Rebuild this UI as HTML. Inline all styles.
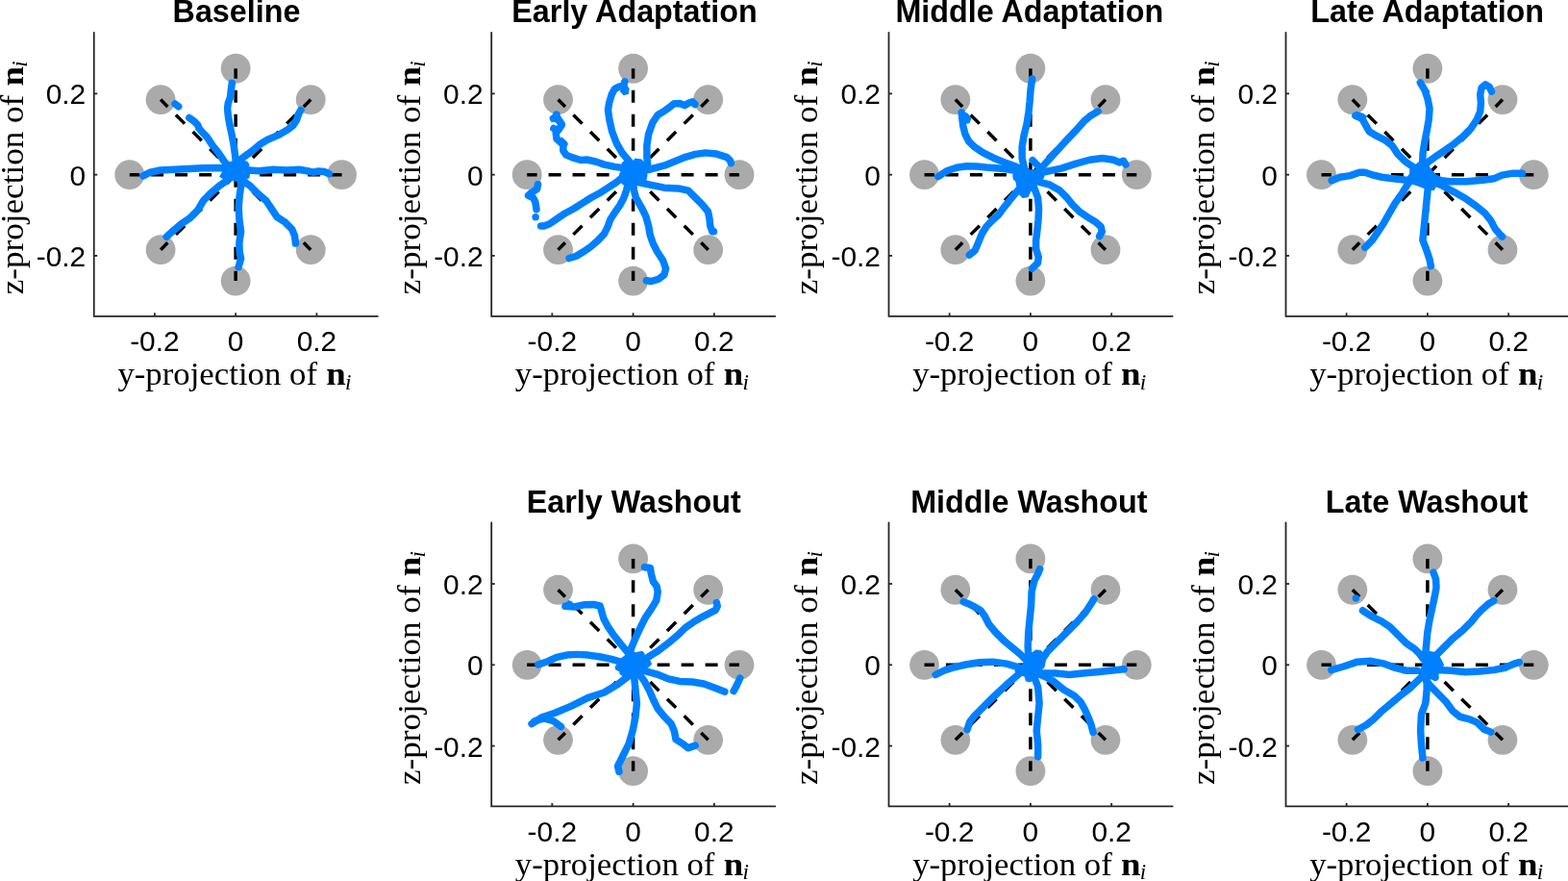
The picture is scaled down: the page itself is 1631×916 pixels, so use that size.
<!DOCTYPE html><html><head><meta charset="utf-8"><style>html,body{margin:0;padding:0;background:#fff;overflow:hidden}svg{display:block}.t{font-family:"Liberation Sans",Arial,Helvetica,sans-serif}.s{font-family:"Liberation Serif","Times New Roman",serif}</style></head><body>
<svg width="1631" height="916" viewBox="0 0 1631 916">
<rect width="1631" height="916" fill="#fff"/>
<g><circle cx="355.55" cy="181.65" r="15.4" fill="#aaaaaa"/><circle cx="323.21" cy="103.59" r="15.4" fill="#aaaaaa"/><circle cx="245.15" cy="71.25" r="15.4" fill="#aaaaaa"/><circle cx="167.09" cy="103.59" r="15.4" fill="#aaaaaa"/><circle cx="134.75" cy="181.65" r="15.4" fill="#aaaaaa"/><circle cx="167.09" cy="259.71" r="15.4" fill="#aaaaaa"/><circle cx="245.15" cy="292.05" r="15.4" fill="#aaaaaa"/><circle cx="323.21" cy="259.71" r="15.4" fill="#aaaaaa"/><line x1="245.15" y1="181.65" x2="355.55" y2="181.65" stroke="#000" stroke-width="3.5" stroke-dasharray="13 12"/><line x1="245.15" y1="181.65" x2="323.21" y2="103.59" stroke="#000" stroke-width="3.5" stroke-dasharray="13 12"/><line x1="245.15" y1="181.65" x2="245.15" y2="71.25" stroke="#000" stroke-width="3.5" stroke-dasharray="13 12"/><line x1="245.15" y1="181.65" x2="167.09" y2="103.59" stroke="#000" stroke-width="3.5" stroke-dasharray="13 12"/><line x1="245.15" y1="181.65" x2="134.75" y2="181.65" stroke="#000" stroke-width="3.5" stroke-dasharray="13 12"/><line x1="245.15" y1="181.65" x2="167.09" y2="259.71" stroke="#000" stroke-width="3.5" stroke-dasharray="13 12"/><line x1="245.15" y1="181.65" x2="245.15" y2="292.05" stroke="#000" stroke-width="3.5" stroke-dasharray="13 12"/><line x1="245.15" y1="181.65" x2="323.21" y2="259.71" stroke="#000" stroke-width="3.5" stroke-dasharray="13 12"/><path d="M246.17 174.8 L245.43 168.9 L244.4 160.06 L242.93 149.74 L241.01 139.43 L238.8 129.11 L237.33 120.27 L236.59 112.9 L237.33 107 L239.54 101.11 L240.27 93.74 L241.3 86.37" fill="none" stroke="#0080ff" stroke-width="7.5" stroke-linecap="round" stroke-linejoin="round"/><path d="M245.9 168.9 L251.79 164.48 L262.11 157.11 L270.95 149.74 L278.32 145.32 L288.64 140.9 L298.95 135.01 L304.85 130.59 L308.53 124.69 L310.74 118.06 L312.95 114.37" fill="none" stroke="#0080ff" stroke-width="7.5" stroke-linecap="round" stroke-linejoin="round"/><path d="M248.84 177.45 L259.16 177.01 L269.48 177.75 L284.21 176.27 L298.95 177.01 L310.74 176.27 L319.59 177.75 L325.48 179.22 L331.38 178.04 L337.27 178.48 L342.43 180.69" fill="none" stroke="#0080ff" stroke-width="7.5" stroke-linecap="round" stroke-linejoin="round"/><path d="M251.24 187.24 L259.76 192.92 L268.28 201.44 L276.79 208.53 L282.47 217.05 L288.14 225.56 L296.66 231.24 L303.76 238.34 L306.59 245.43 L307.45 253.1" fill="none" stroke="#0080ff" stroke-width="7.5" stroke-linecap="round" stroke-linejoin="round"/><path d="M251.05 184.84 L250.61 193.69 L249.14 204 L248.25 215.79 L248.84 227.58 L250.61 240.85 L248.84 252.64 L249.14 261.48 L250.61 268.85 L248.11 277.69" fill="none" stroke="#0080ff" stroke-width="7.5" stroke-linecap="round" stroke-linejoin="round"/><path d="M237.05 187.24 L228.54 192.92 L220.02 200.02 L211.51 208.53 L205.83 218.47 L197.31 226.98 L188.8 232.66 L180.28 239.76 L173.19 246.28" fill="none" stroke="#0080ff" stroke-width="7.5" stroke-linecap="round" stroke-linejoin="round"/><path d="M238.8 175.09 L225.53 174.5 L210.8 174.8 L196.06 175.54 L181.32 176.27 L166.58 177.01 L156.27 179.22 L148.9 182.91" fill="none" stroke="#0080ff" stroke-width="7.5" stroke-linecap="round" stroke-linejoin="round"/><path d="M240.27 176.27 L232.9 167.43 L227.01 158.59 L221.11 151.22 L218.17 146.8 L215.22 142.38 L210.8 137.95 L207.11 133.53 L205.64 129.85 L201.95 126.16 L196.8 122.48" fill="none" stroke="#0080ff" stroke-width="7.5" stroke-linecap="round" stroke-linejoin="round"/><path d="M182.06 108.04 L185.74 110.69" fill="none" stroke="#0080ff" stroke-width="7.5" stroke-linecap="round" stroke-linejoin="round"/><path d="M228.1 183.75 L236.62 168.69 L243.17 167.05 L251.68 166.72 L256.92 167.38 L259.54 170.65 L258.89 175.24 L260.2 178.51 L259.54 185.06 L254.3 187.68 L246.44 188.99 L239.89 187.68 L232.03 186.37Z" fill="#0080ff"/><path d="M97.75 33.85 L97.75 328.8 L392.85 328.8" fill="none" stroke="#262626" stroke-width="1.8" stroke-linecap="round"/><line x1="160.89" y1="328.8" x2="160.89" y2="325.3" stroke="#262626" stroke-width="1.8"/><line x1="97.75" y1="265.91" x2="101.25" y2="265.91" stroke="#262626" stroke-width="1.8"/><text class="t" x="160.89" y="365.2" font-size="29.9" text-anchor="middle" fill="#000">-0.2</text><text class="t" x="89.2" y="276.91" font-size="29.9" text-anchor="end" fill="#000">-0.2</text><line x1="245.15" y1="328.8" x2="245.15" y2="325.3" stroke="#262626" stroke-width="1.8"/><line x1="97.75" y1="181.65" x2="101.25" y2="181.65" stroke="#262626" stroke-width="1.8"/><text class="t" x="245.15" y="365.2" font-size="29.9" text-anchor="middle" fill="#000">0</text><text class="t" x="89.2" y="192.65" font-size="29.9" text-anchor="end" fill="#000">0</text><line x1="329.41" y1="328.8" x2="329.41" y2="325.3" stroke="#262626" stroke-width="1.8"/><line x1="97.75" y1="97.39" x2="101.25" y2="97.39" stroke="#262626" stroke-width="1.8"/><text class="t" x="329.41" y="365.2" font-size="29.9" text-anchor="middle" fill="#000">0.2</text><text class="t" x="89.2" y="108.39" font-size="29.9" text-anchor="end" fill="#000">0.2</text><text class="t" x="246" y="23.3" font-size="32.3" font-weight="bold" text-anchor="middle" fill="#000">Baseline</text><text class="s" x="122.4" y="399.9" font-size="33.0" textLength="207.6" lengthAdjust="spacingAndGlyphs" fill="#000">y-projection of</text><text class="s" x="339.2" y="399.9" font-size="33.0" font-weight="bold" textLength="20.5" lengthAdjust="spacingAndGlyphs" fill="#000">n</text><text class="s" x="359" y="404.6" font-size="23.1" font-style="italic" fill="#000">i</text><g transform="translate(23.6 181.65) rotate(-90)"><text class="s" x="-124.7" y="0" font-size="33.0" textLength="207.6" lengthAdjust="spacingAndGlyphs" fill="#000">z-projection of</text><text class="s" x="92.1" y="0" font-size="33.0" font-weight="bold" textLength="20.5" lengthAdjust="spacingAndGlyphs" fill="#000">n</text><text class="s" x="111.9" y="4.7" font-size="23.1" font-style="italic" fill="#000">i</text></g></g>
<g><circle cx="769" cy="181.65" r="15.4" fill="#aaaaaa"/><circle cx="736.66" cy="103.59" r="15.4" fill="#aaaaaa"/><circle cx="658.6" cy="71.25" r="15.4" fill="#aaaaaa"/><circle cx="580.54" cy="103.59" r="15.4" fill="#aaaaaa"/><circle cx="548.2" cy="181.65" r="15.4" fill="#aaaaaa"/><circle cx="580.54" cy="259.71" r="15.4" fill="#aaaaaa"/><circle cx="658.6" cy="292.05" r="15.4" fill="#aaaaaa"/><circle cx="736.66" cy="259.71" r="15.4" fill="#aaaaaa"/><line x1="658.6" y1="181.65" x2="769" y2="181.65" stroke="#000" stroke-width="3.5" stroke-dasharray="13 12"/><line x1="658.6" y1="181.65" x2="736.66" y2="103.59" stroke="#000" stroke-width="3.5" stroke-dasharray="13 12"/><line x1="658.6" y1="181.65" x2="658.6" y2="71.25" stroke="#000" stroke-width="3.5" stroke-dasharray="13 12"/><line x1="658.6" y1="181.65" x2="580.54" y2="103.59" stroke="#000" stroke-width="3.5" stroke-dasharray="13 12"/><line x1="658.6" y1="181.65" x2="548.2" y2="181.65" stroke="#000" stroke-width="3.5" stroke-dasharray="13 12"/><line x1="658.6" y1="181.65" x2="580.54" y2="259.71" stroke="#000" stroke-width="3.5" stroke-dasharray="13 12"/><line x1="658.6" y1="181.65" x2="658.6" y2="292.05" stroke="#000" stroke-width="3.5" stroke-dasharray="13 12"/><line x1="658.6" y1="181.65" x2="736.66" y2="259.71" stroke="#000" stroke-width="3.5" stroke-dasharray="13 12"/><path d="M650.04 174.89 L639.34 173.36 L628.65 171.07 L619.48 168.01 L610.31 166.03 L604.19 166.48 L596.55 164.19 L588.91 161.14 L585.85 156.55 L585.85 150.44 L582.79 147.69 L578.97 144.32 L578.21 138.21 L581.27 134.39 L584.32 129.8 L581.57 125.68 L578.21 123.23 L578.97 119.1" fill="none" stroke="#0080ff" stroke-width="7.5" stroke-linecap="round" stroke-linejoin="round"/><path d="M578.37 120.27 L584.27 129.11" fill="none" stroke="#0080ff" stroke-width="7.5" stroke-linecap="round" stroke-linejoin="round"/><path d="M575.87 133.53 L579.85 135.74" fill="none" stroke="#0080ff" stroke-width="7.5" stroke-linecap="round" stroke-linejoin="round"/><path d="M583.83 146.8 L586.77 149.74" fill="none" stroke="#0080ff" stroke-width="7.5" stroke-linecap="round" stroke-linejoin="round"/><path d="M575.42 123.22 L578.37 121.74" fill="none" stroke="#0080ff" stroke-width="7.5" stroke-linecap="round" stroke-linejoin="round"/><path d="M646.9 184.84 L641.01 189.56 L632.17 195.45 L623.32 201.05 L614.48 205.77 L605.64 211.37 L596.79 216.97 L587.95 221.69 L579.11 227.58 L571.74 232.74 L565.84 234.95 L562.6 234.95" fill="none" stroke="#0080ff" stroke-width="7.5" stroke-linecap="round" stroke-linejoin="round"/><path d="M557.12 225.63 L557.12 225.63" fill="none" stroke="#0080ff" stroke-width="7.5" stroke-linecap="round" stroke-linejoin="round"/><path d="M558.03 217.69 L556.81 210.04 L554.52 205.46 L549.48 203.32 L552.99 200.11 L558.65 196.59 L559.56 191.7" fill="none" stroke="#0080ff" stroke-width="7.5" stroke-linecap="round" stroke-linejoin="round"/><path d="M658.69 173.33 L654.27 167.43 L646.9 158.59 L641.01 148.27 L636.59 136.48 L633.93 124.69 L632.46 114.37 L633.64 107 L636.29 98.16 L639.53 92.27 L643.96 90.06 L648.38 89.61 L649.85 84.9" fill="none" stroke="#0080ff" stroke-width="7.5" stroke-linecap="round" stroke-linejoin="round"/><path d="M645.43 89.61 L651.33 87.11 L654.57 92.27 L653.98 97.87 L648.67 99.34 L645.14 95.21Z" fill="#0080ff"/><path d="M673.9 176.27 L672.86 163.01 L672.86 151.22 L674.63 139.43 L678.76 127.64 L684.21 119.53 L691.58 115.11 L697.48 110.69 L701.16 107.74 L707.06 107.45 L712.22 109.66 L715.9 107.3 L720.32 105.83 L722.97 108.48" fill="none" stroke="#0080ff" stroke-width="7.5" stroke-linecap="round" stroke-linejoin="round"/><path d="M668.74 177.75 L676.11 175.98 L690.84 172.15 L702.64 167.43 L712.95 163.3 L723.27 160.36 L733.59 158.88 L745.38 160.06 L755.69 163.3 L759.38 166.69 L760.41 169.64" fill="none" stroke="#0080ff" stroke-width="7.5" stroke-linecap="round" stroke-linejoin="round"/><path d="M662.84 189.26 L676.11 192.21 L690.84 195.16 L705.58 195.9 L715.9 198.11 L723.27 205.48 L730.64 212.84 L736.53 220.21 L738.01 227.58 L738.74 234.95 L740.95 240.85 L742.43 240.85" fill="none" stroke="#0080ff" stroke-width="7.5" stroke-linecap="round" stroke-linejoin="round"/><path d="M658.42 193.69 L661.37 205.48 L667.26 215.79 L671.69 224.64 L674.63 234.95 L676.11 243.79 L679.05 252.64 L683.48 261.48 L689.37 270.32 L692.61 279.17 L690.84 285.8 L684.95 290.22 L677.58 292.43 L672.42 291.69" fill="none" stroke="#0080ff" stroke-width="7.5" stroke-linecap="round" stroke-linejoin="round"/><path d="M653.54 189.26 L651.62 198.11 L648.67 206.21 L644.69 213.58 L639.53 220.95 L634.82 228.32 L632.17 235.69 L628.48 243.06 L621.55 250.43 L614.19 256.76 L606.82 261.78 L599.45 266.2 L592.08 268.55" fill="none" stroke="#0080ff" stroke-width="7.5" stroke-linecap="round" stroke-linejoin="round"/><path d="M646.38 169.65 L649.65 166.38 L657.51 167.69 L660.79 164.41 L667.34 165.39 L670.28 169 L672.58 174.89 L673.56 182.75 L671.92 189.3 L662.75 191.92 L662.75 195.85 L659.48 198.47 L654.89 195.85 L647.69 191.92 L643.1 186.68 L644.41 180.13 L647.69 174.24Z" fill="#0080ff"/><path d="M511.2 33.85 L511.2 328.8 L806.3 328.8" fill="none" stroke="#262626" stroke-width="1.8" stroke-linecap="round"/><line x1="574.34" y1="328.8" x2="574.34" y2="325.3" stroke="#262626" stroke-width="1.8"/><line x1="511.2" y1="265.91" x2="514.7" y2="265.91" stroke="#262626" stroke-width="1.8"/><text class="t" x="574.34" y="365.2" font-size="29.9" text-anchor="middle" fill="#000">-0.2</text><text class="t" x="502.65" y="276.91" font-size="29.9" text-anchor="end" fill="#000">-0.2</text><line x1="658.6" y1="328.8" x2="658.6" y2="325.3" stroke="#262626" stroke-width="1.8"/><line x1="511.2" y1="181.65" x2="514.7" y2="181.65" stroke="#262626" stroke-width="1.8"/><text class="t" x="658.6" y="365.2" font-size="29.9" text-anchor="middle" fill="#000">0</text><text class="t" x="502.65" y="192.65" font-size="29.9" text-anchor="end" fill="#000">0</text><line x1="742.86" y1="328.8" x2="742.86" y2="325.3" stroke="#262626" stroke-width="1.8"/><line x1="511.2" y1="97.39" x2="514.7" y2="97.39" stroke="#262626" stroke-width="1.8"/><text class="t" x="742.86" y="365.2" font-size="29.9" text-anchor="middle" fill="#000">0.2</text><text class="t" x="502.65" y="108.39" font-size="29.9" text-anchor="end" fill="#000">0.2</text><text class="t" x="660.05" y="23.3" font-size="32.3" font-weight="bold" text-anchor="middle" fill="#000">Early Adaptation</text><text class="s" x="535.85" y="399.9" font-size="33.0" textLength="207.6" lengthAdjust="spacingAndGlyphs" fill="#000">y-projection of</text><text class="s" x="752.65" y="399.9" font-size="33.0" font-weight="bold" textLength="20.5" lengthAdjust="spacingAndGlyphs" fill="#000">n</text><text class="s" x="772.45" y="404.6" font-size="23.1" font-style="italic" fill="#000">i</text><g transform="translate(437.05 181.65) rotate(-90)"><text class="s" x="-124.7" y="0" font-size="33.0" textLength="207.6" lengthAdjust="spacingAndGlyphs" fill="#000">z-projection of</text><text class="s" x="92.1" y="0" font-size="33.0" font-weight="bold" textLength="20.5" lengthAdjust="spacingAndGlyphs" fill="#000">n</text><text class="s" x="111.9" y="4.7" font-size="23.1" font-style="italic" fill="#000">i</text></g></g>
<g><circle cx="1182.3" cy="181.65" r="15.4" fill="#aaaaaa"/><circle cx="1149.96" cy="103.59" r="15.4" fill="#aaaaaa"/><circle cx="1071.9" cy="71.25" r="15.4" fill="#aaaaaa"/><circle cx="993.84" cy="103.59" r="15.4" fill="#aaaaaa"/><circle cx="961.5" cy="181.65" r="15.4" fill="#aaaaaa"/><circle cx="993.84" cy="259.71" r="15.4" fill="#aaaaaa"/><circle cx="1071.9" cy="292.05" r="15.4" fill="#aaaaaa"/><circle cx="1149.96" cy="259.71" r="15.4" fill="#aaaaaa"/><line x1="1071.9" y1="181.65" x2="1182.3" y2="181.65" stroke="#000" stroke-width="3.5" stroke-dasharray="13 12"/><line x1="1071.9" y1="181.65" x2="1149.96" y2="103.59" stroke="#000" stroke-width="3.5" stroke-dasharray="13 12"/><line x1="1071.9" y1="181.65" x2="1071.9" y2="71.25" stroke="#000" stroke-width="3.5" stroke-dasharray="13 12"/><line x1="1071.9" y1="181.65" x2="993.84" y2="103.59" stroke="#000" stroke-width="3.5" stroke-dasharray="13 12"/><line x1="1071.9" y1="181.65" x2="961.5" y2="181.65" stroke="#000" stroke-width="3.5" stroke-dasharray="13 12"/><line x1="1071.9" y1="181.65" x2="993.84" y2="259.71" stroke="#000" stroke-width="3.5" stroke-dasharray="13 12"/><line x1="1071.9" y1="181.65" x2="1071.9" y2="292.05" stroke="#000" stroke-width="3.5" stroke-dasharray="13 12"/><line x1="1071.9" y1="181.65" x2="1149.96" y2="259.71" stroke="#000" stroke-width="3.5" stroke-dasharray="13 12"/><path d="M1066.54 179.22 L1063.15 164.48 L1063.15 152.69 L1065.06 140.9 L1068.01 129.11 L1069.93 117.32 L1071.1 105.53 L1071.99 93.74 L1073.61 81.95" fill="none" stroke="#0080ff" stroke-width="7.5" stroke-linecap="round" stroke-linejoin="round"/><path d="M1080.26 177.75 L1096.48 160.06 L1108.27 147.09 L1118.58 136.19 L1127.43 126.16 L1134.06 120.56 L1142.16 115.85" fill="none" stroke="#0080ff" stroke-width="7.5" stroke-linecap="round" stroke-linejoin="round"/><path d="M1083.21 179.52 L1103.84 175.09 L1118.58 170.38 L1133.32 166.25 L1146.59 164.48 L1158.38 166.25 L1164.27 168.9 L1168.69 167.43 L1170.9 171.11" fill="none" stroke="#0080ff" stroke-width="7.5" stroke-linecap="round" stroke-linejoin="round"/><path d="M1078.79 188.53 L1092.05 192.21 L1102.37 198.11 L1109.74 205.48 L1115.64 212.84 L1123 220.21 L1131.85 226.11 L1139.22 230.53 L1145.11 235.69 L1146.29 240.85 L1143.64 245.56" fill="none" stroke="#0080ff" stroke-width="7.5" stroke-linecap="round" stroke-linejoin="round"/><path d="M1075.11 193.69 L1079.53 205.48 L1080.56 217.27 L1079.97 229.06 L1078.79 240.85 L1077.61 249.69 L1077.61 258.53 L1080.26 267.38 L1079.53 273.27 L1073.63 279.17" fill="none" stroke="#0080ff" stroke-width="7.5" stroke-linecap="round" stroke-linejoin="round"/><path d="M1059.9 196.63 L1051.8 206.21 L1045.17 214.61 L1038.53 223.46 L1031.9 229.35 L1026.3 235.25 L1021.59 242.62 L1017.46 252.64 L1014.22 260.3 L1008.32 265.16" fill="none" stroke="#0080ff" stroke-width="7.5" stroke-linecap="round" stroke-linejoin="round"/><path d="M1062.85 178.48 L1048.11 175.98 L1036.32 174.8 L1026.01 174.06 L1015.69 173.03 L1005.37 172.74 L995.06 174.21 L984.74 177.75 L975.9 183.64" fill="none" stroke="#0080ff" stroke-width="7.5" stroke-linecap="round" stroke-linejoin="round"/><path d="M1067.27 177.75 L1056.96 173.33 L1045.17 168.9 L1033.38 164.19 L1022.32 158.59 L1013.48 152.69 L1007.58 146.8 L1003.9 139.43 L1001.69 130.59 L1000.66 121.74 L1000.22 117.03" fill="none" stroke="#0080ff" stroke-width="7.5" stroke-linecap="round" stroke-linejoin="round"/><path d="M997.27 118.79 L1000.95 115.11 L1006.85 118.06 L1010.53 123.22 L1008.32 128.37 L1003.16 129.11 L998.74 126.16Z" fill="#0080ff"/><path d="M1074.1 166.72 L1078.68 171.31 L1082.61 175.89" fill="none" stroke="#0080ff" stroke-width="7.5" stroke-linecap="round" stroke-linejoin="round"/><path d="M1053.14 181.79 L1060.34 175.89 L1069.51 176.55 L1078.68 175.89 L1083.92 178.51 L1086.54 183.75 L1082.61 190.3 L1076.06 192.92 L1071.48 200.78 L1069.51 205.37 L1063.62 206.02 L1059.69 202.09 L1057.07 192.92 L1056.41 188.99 L1053.79 186.37Z" fill="#0080ff"/><path d="M924.5 33.85 L924.5 328.8 L1219.6 328.8" fill="none" stroke="#262626" stroke-width="1.8" stroke-linecap="round"/><line x1="987.64" y1="328.8" x2="987.64" y2="325.3" stroke="#262626" stroke-width="1.8"/><line x1="924.5" y1="265.91" x2="928" y2="265.91" stroke="#262626" stroke-width="1.8"/><text class="t" x="987.64" y="365.2" font-size="29.9" text-anchor="middle" fill="#000">-0.2</text><text class="t" x="915.95" y="276.91" font-size="29.9" text-anchor="end" fill="#000">-0.2</text><line x1="1071.9" y1="328.8" x2="1071.9" y2="325.3" stroke="#262626" stroke-width="1.8"/><line x1="924.5" y1="181.65" x2="928" y2="181.65" stroke="#262626" stroke-width="1.8"/><text class="t" x="1071.9" y="365.2" font-size="29.9" text-anchor="middle" fill="#000">0</text><text class="t" x="915.95" y="192.65" font-size="29.9" text-anchor="end" fill="#000">0</text><line x1="1156.16" y1="328.8" x2="1156.16" y2="325.3" stroke="#262626" stroke-width="1.8"/><line x1="924.5" y1="97.39" x2="928" y2="97.39" stroke="#262626" stroke-width="1.8"/><text class="t" x="1156.16" y="365.2" font-size="29.9" text-anchor="middle" fill="#000">0.2</text><text class="t" x="915.95" y="108.39" font-size="29.9" text-anchor="end" fill="#000">0.2</text><text class="t" x="1070.8" y="23.3" font-size="32.3" font-weight="bold" text-anchor="middle" fill="#000">Middle Adaptation</text><text class="s" x="949.15" y="399.9" font-size="33.0" textLength="207.6" lengthAdjust="spacingAndGlyphs" fill="#000">y-projection of</text><text class="s" x="1165.95" y="399.9" font-size="33.0" font-weight="bold" textLength="20.5" lengthAdjust="spacingAndGlyphs" fill="#000">n</text><text class="s" x="1185.75" y="404.6" font-size="23.1" font-style="italic" fill="#000">i</text><g transform="translate(850.35 181.65) rotate(-90)"><text class="s" x="-124.7" y="0" font-size="33.0" textLength="207.6" lengthAdjust="spacingAndGlyphs" fill="#000">z-projection of</text><text class="s" x="92.1" y="0" font-size="33.0" font-weight="bold" textLength="20.5" lengthAdjust="spacingAndGlyphs" fill="#000">n</text><text class="s" x="111.9" y="4.7" font-size="23.1" font-style="italic" fill="#000">i</text></g></g>
<g><circle cx="1595.3" cy="181.65" r="15.4" fill="#aaaaaa"/><circle cx="1562.96" cy="103.59" r="15.4" fill="#aaaaaa"/><circle cx="1484.9" cy="71.25" r="15.4" fill="#aaaaaa"/><circle cx="1406.84" cy="103.59" r="15.4" fill="#aaaaaa"/><circle cx="1374.5" cy="181.65" r="15.4" fill="#aaaaaa"/><circle cx="1406.84" cy="259.71" r="15.4" fill="#aaaaaa"/><circle cx="1484.9" cy="292.05" r="15.4" fill="#aaaaaa"/><circle cx="1562.96" cy="259.71" r="15.4" fill="#aaaaaa"/><line x1="1484.9" y1="181.65" x2="1595.3" y2="181.65" stroke="#000" stroke-width="3.5" stroke-dasharray="13 12"/><line x1="1484.9" y1="181.65" x2="1562.96" y2="103.59" stroke="#000" stroke-width="3.5" stroke-dasharray="13 12"/><line x1="1484.9" y1="181.65" x2="1484.9" y2="71.25" stroke="#000" stroke-width="3.5" stroke-dasharray="13 12"/><line x1="1484.9" y1="181.65" x2="1406.84" y2="103.59" stroke="#000" stroke-width="3.5" stroke-dasharray="13 12"/><line x1="1484.9" y1="181.65" x2="1374.5" y2="181.65" stroke="#000" stroke-width="3.5" stroke-dasharray="13 12"/><line x1="1484.9" y1="181.65" x2="1406.84" y2="259.71" stroke="#000" stroke-width="3.5" stroke-dasharray="13 12"/><line x1="1484.9" y1="181.65" x2="1484.9" y2="292.05" stroke="#000" stroke-width="3.5" stroke-dasharray="13 12"/><line x1="1484.9" y1="181.65" x2="1562.96" y2="259.71" stroke="#000" stroke-width="3.5" stroke-dasharray="13 12"/><path d="M1479.54 173.33 L1479.98 160.06 L1481.75 148.27 L1484.1 136.48 L1486.17 124.69 L1487.05 112.9 L1484.99 102.58 L1482.04 93.74 L1477.33 85.93" fill="none" stroke="#0080ff" stroke-width="7.5" stroke-linecap="round" stroke-linejoin="round"/><path d="M1482.95 170.38 L1494.74 161.83 L1503.58 155.93 L1512.72 149.45 L1521.56 142.08 L1530.11 133.53 L1536 124.69 L1539.69 115.85 L1540.43 107 L1539.69 98.16 L1541.16 91.09 L1545.14 87.84 L1549.27 90.5 L1551.48 95.21" fill="none" stroke="#0080ff" stroke-width="7.5" stroke-linecap="round" stroke-linejoin="round"/><path d="M1494.08 187.24 L1508.28 188.66 L1525.31 188.66 L1542.34 187.24 L1553.69 185.83 L1562.21 182.14 L1573.56 180.15 L1583.49 180.15" fill="none" stroke="#0080ff" stroke-width="7.5" stroke-linecap="round" stroke-linejoin="round"/><path d="M1491.79 189.26 L1499.16 192.51 L1512.42 199.58 L1524.21 206.21 L1536 214.61 L1544.85 221.98 L1550.74 229.35 L1555.16 237.9 L1559.59 243.06 L1562.53 246.01" fill="none" stroke="#0080ff" stroke-width="7.5" stroke-linecap="round" stroke-linejoin="round"/><path d="M1485.57 192.92 L1484.15 207.11 L1482.73 221.31 L1481.31 235.5 L1479.89 249.69 L1484.15 261.04 L1486.99 269.56 L1488.41 276.66" fill="none" stroke="#0080ff" stroke-width="7.5" stroke-linecap="round" stroke-linejoin="round"/><path d="M1468.48 184.84 L1464.8 190.74 L1458.9 200.32 L1451.09 211.37 L1445.2 221.69 L1439.3 232 L1433.41 240.85 L1427.51 249.69 L1419.85 257.35" fill="none" stroke="#0080ff" stroke-width="7.5" stroke-linecap="round" stroke-linejoin="round"/><path d="M1477.33 186.32 L1472.9 187.79 L1461.11 187.05 L1449.32 185.73 L1437.53 184.25 L1428.69 182.19 L1419.85 179.24 L1413.95 179.24 L1404.37 182.63 L1393.61 184.25 L1385.21 187.79" fill="none" stroke="#0080ff" stroke-width="7.5" stroke-linecap="round" stroke-linejoin="round"/><path d="M1478.8 177.75 L1469.96 173.62 L1461.41 167.72 L1454.04 160.36 L1448.14 151.51 L1440.48 145.62 L1431.64 141.2 L1424.27 136.78 L1420.14 129.41 L1416.9 123.22 L1409.83 120.27" fill="none" stroke="#0080ff" stroke-width="7.5" stroke-linecap="round" stroke-linejoin="round"/><path d="M1407.32 118.06 L1411 115.85 L1418.37 118.06 L1422.06 121.01 L1419.85 124.69 L1413.95 125.43 L1408.06 123.22Z" fill="#0080ff"/><path d="M1466.14 175.89 L1476.62 167.38 L1484.48 170.65 L1489.06 175.89 L1494.3 181.79 L1500.85 184.41 L1504.78 190.3 L1494.3 193.58 L1491.68 198.16 L1483.17 196.85 L1474.65 193.58 L1466.79 190.96 L1462.86 185.06 L1466.14 180.48Z" fill="#0080ff"/><path d="M1337.5 33.85 L1337.5 328.8 L1632.6 328.8" fill="none" stroke="#262626" stroke-width="1.8" stroke-linecap="round"/><line x1="1400.64" y1="328.8" x2="1400.64" y2="325.3" stroke="#262626" stroke-width="1.8"/><line x1="1337.5" y1="265.91" x2="1341" y2="265.91" stroke="#262626" stroke-width="1.8"/><text class="t" x="1400.64" y="365.2" font-size="29.9" text-anchor="middle" fill="#000">-0.2</text><text class="t" x="1328.95" y="276.91" font-size="29.9" text-anchor="end" fill="#000">-0.2</text><line x1="1484.9" y1="328.8" x2="1484.9" y2="325.3" stroke="#262626" stroke-width="1.8"/><line x1="1337.5" y1="181.65" x2="1341" y2="181.65" stroke="#262626" stroke-width="1.8"/><text class="t" x="1484.9" y="365.2" font-size="29.9" text-anchor="middle" fill="#000">0</text><text class="t" x="1328.95" y="192.65" font-size="29.9" text-anchor="end" fill="#000">0</text><line x1="1569.16" y1="328.8" x2="1569.16" y2="325.3" stroke="#262626" stroke-width="1.8"/><line x1="1337.5" y1="97.39" x2="1341" y2="97.39" stroke="#262626" stroke-width="1.8"/><text class="t" x="1569.16" y="365.2" font-size="29.9" text-anchor="middle" fill="#000">0.2</text><text class="t" x="1328.95" y="108.39" font-size="29.9" text-anchor="end" fill="#000">0.2</text><text class="t" x="1484.65" y="23.3" font-size="32.3" font-weight="bold" text-anchor="middle" fill="#000">Late Adaptation</text><text class="s" x="1362.15" y="399.9" font-size="33.0" textLength="207.6" lengthAdjust="spacingAndGlyphs" fill="#000">y-projection of</text><text class="s" x="1578.95" y="399.9" font-size="33.0" font-weight="bold" textLength="20.5" lengthAdjust="spacingAndGlyphs" fill="#000">n</text><text class="s" x="1598.75" y="404.6" font-size="23.1" font-style="italic" fill="#000">i</text><g transform="translate(1263.35 181.65) rotate(-90)"><text class="s" x="-124.7" y="0" font-size="33.0" textLength="207.6" lengthAdjust="spacingAndGlyphs" fill="#000">z-projection of</text><text class="s" x="92.1" y="0" font-size="33.0" font-weight="bold" textLength="20.5" lengthAdjust="spacingAndGlyphs" fill="#000">n</text><text class="s" x="111.9" y="4.7" font-size="23.1" font-style="italic" fill="#000">i</text></g></g>
<g><circle cx="769" cy="691.3" r="15.4" fill="#aaaaaa"/><circle cx="736.66" cy="613.24" r="15.4" fill="#aaaaaa"/><circle cx="658.6" cy="580.9" r="15.4" fill="#aaaaaa"/><circle cx="580.54" cy="613.24" r="15.4" fill="#aaaaaa"/><circle cx="548.2" cy="691.3" r="15.4" fill="#aaaaaa"/><circle cx="580.54" cy="769.36" r="15.4" fill="#aaaaaa"/><circle cx="658.6" cy="801.7" r="15.4" fill="#aaaaaa"/><circle cx="736.66" cy="769.36" r="15.4" fill="#aaaaaa"/><line x1="658.6" y1="691.3" x2="769" y2="691.3" stroke="#000" stroke-width="3.5" stroke-dasharray="13 12"/><line x1="658.6" y1="691.3" x2="736.66" y2="613.24" stroke="#000" stroke-width="3.5" stroke-dasharray="13 12"/><line x1="658.6" y1="691.3" x2="658.6" y2="580.9" stroke="#000" stroke-width="3.5" stroke-dasharray="13 12"/><line x1="658.6" y1="691.3" x2="580.54" y2="613.24" stroke="#000" stroke-width="3.5" stroke-dasharray="13 12"/><line x1="658.6" y1="691.3" x2="548.2" y2="691.3" stroke="#000" stroke-width="3.5" stroke-dasharray="13 12"/><line x1="658.6" y1="691.3" x2="580.54" y2="769.36" stroke="#000" stroke-width="3.5" stroke-dasharray="13 12"/><line x1="658.6" y1="691.3" x2="658.6" y2="801.7" stroke="#000" stroke-width="3.5" stroke-dasharray="13 12"/><line x1="658.6" y1="691.3" x2="736.66" y2="769.36" stroke="#000" stroke-width="3.5" stroke-dasharray="13 12"/><path d="M654 684.8 L656.95 673.01 L661.37 662.69 L666.53 651.64 L671.39 642.06 L677.58 632.92 L682.74 624.37 L684.21 615.53 L683.18 609.64 L679.35 604.48 L677.29 596.37 L676.4 590.48 L670.51 589.74" fill="none" stroke="#0080ff" stroke-width="7.5" stroke-linecap="round" stroke-linejoin="round"/><path d="M662.84 689.22 L671.69 684.8 L683.48 677.43 L695.27 668.59 L704.11 661.22 L712.95 652.67 L721.79 646.48 L730.64 641.32 L738.3 637.34 L744.2 634.4 L746.26 630.27 L745.38 626.58" fill="none" stroke="#0080ff" stroke-width="7.5" stroke-linecap="round" stroke-linejoin="round"/><path d="M662.84 696.32 L671.69 697.79 L683.48 701.03 L695.27 705.9 L707.06 708.4 L720.32 708.99 L732.11 711.05 L742.43 714.74 L753.92 719.16" fill="none" stroke="#0080ff" stroke-width="7.5" stroke-linecap="round" stroke-linejoin="round"/><path d="M763.17 718.53 L766.86 711.44 L769.7 705.19" fill="none" stroke="#0080ff" stroke-width="7.5" stroke-linecap="round" stroke-linejoin="round"/><path d="M665.79 702.21 L670.21 708.11 L675.37 717.69 L679.79 728 L684.21 736.85 L691.14 745.25 L698.21 752.62 L701.46 760.43 L702.93 768.53 L710 773.25 L715.9 777.67 L723.27 775.16" fill="none" stroke="#0080ff" stroke-width="7.5" stroke-linecap="round" stroke-linejoin="round"/><path d="M659.57 702.92 L660.99 717.11 L662.41 731.31 L660.99 745.5 L658.15 759.69 L653.89 773.88 L648.21 785.24 L642.54 796.59 L643.96 802.27" fill="none" stroke="#0080ff" stroke-width="7.5" stroke-linecap="round" stroke-linejoin="round"/><path d="M653.89 702.92 L642.54 711.44 L628.34 719.95 L611.31 725.63 L594.28 734.14 L577.25 741.24 L563.06 746.07 L553.13 752.59" fill="none" stroke="#0080ff" stroke-width="7.5" stroke-linecap="round" stroke-linejoin="round"/><path d="M555.97 749.76 L565.9 746.92 L575.83 749.76 L583.5 755.43" fill="none" stroke="#0080ff" stroke-width="7.5" stroke-linecap="round" stroke-linejoin="round"/><path d="M646.9 688.48 L635.11 685.09 L623.32 682.74 L611.53 681.11 L599.74 680.38 L589.43 681.11 L579.11 683.33 L570.27 687.45 L559.95 690.99" fill="none" stroke="#0080ff" stroke-width="7.5" stroke-linecap="round" stroke-linejoin="round"/><path d="M657.22 684.8 L652.8 678.17 L645.43 669.32 L638.06 660.04 L632.46 651.64 L628.04 643.53 L625.53 634.69 L624.06 629.97 L617.43 628.5 L607.11 628.79 L597.53 631.01 L587.95 630.27" fill="none" stroke="#0080ff" stroke-width="7.5" stroke-linecap="round" stroke-linejoin="round"/><path d="M587.22 627.32 L591.64 624.08 L595.62 625.85 L596.5 630.27 L591.64 633.22 L586.48 631.74Z" fill="#0080ff"/><path d="M639.48 693.75 L645.38 684.58 L650.62 681.31 L661.75 678.03 L668.3 676.72 L670.92 680 L668.3 684.58 L676.16 685.89 L678.13 690.48 L674.85 693.75 L671.58 696.37 L666.99 701.61 L658.48 703.58 L648.65 704.23 L644.72 700.96 L644.07 698.34 L640.14 696.37Z" fill="#0080ff"/><path d="M511.2 543.5 L511.2 838.45 L806.3 838.45" fill="none" stroke="#262626" stroke-width="1.8" stroke-linecap="round"/><line x1="574.34" y1="838.45" x2="574.34" y2="834.95" stroke="#262626" stroke-width="1.8"/><line x1="511.2" y1="775.56" x2="514.7" y2="775.56" stroke="#262626" stroke-width="1.8"/><text class="t" x="574.34" y="874.85" font-size="29.9" text-anchor="middle" fill="#000">-0.2</text><text class="t" x="502.65" y="786.56" font-size="29.9" text-anchor="end" fill="#000">-0.2</text><line x1="658.6" y1="838.45" x2="658.6" y2="834.95" stroke="#262626" stroke-width="1.8"/><line x1="511.2" y1="691.3" x2="514.7" y2="691.3" stroke="#262626" stroke-width="1.8"/><text class="t" x="658.6" y="874.85" font-size="29.9" text-anchor="middle" fill="#000">0</text><text class="t" x="502.65" y="702.3" font-size="29.9" text-anchor="end" fill="#000">0</text><line x1="742.86" y1="838.45" x2="742.86" y2="834.95" stroke="#262626" stroke-width="1.8"/><line x1="511.2" y1="607.04" x2="514.7" y2="607.04" stroke="#262626" stroke-width="1.8"/><text class="t" x="742.86" y="874.85" font-size="29.9" text-anchor="middle" fill="#000">0.2</text><text class="t" x="502.65" y="618.04" font-size="29.9" text-anchor="end" fill="#000">0.2</text><text class="t" x="659.25" y="532.95" font-size="32.3" font-weight="bold" text-anchor="middle" fill="#000">Early Washout</text><text class="s" x="535.85" y="909.55" font-size="33.0" textLength="207.6" lengthAdjust="spacingAndGlyphs" fill="#000">y-projection of</text><text class="s" x="752.65" y="909.55" font-size="33.0" font-weight="bold" textLength="20.5" lengthAdjust="spacingAndGlyphs" fill="#000">n</text><text class="s" x="772.45" y="914.25" font-size="23.1" font-style="italic" fill="#000">i</text><g transform="translate(437.05 691.3) rotate(-90)"><text class="s" x="-124.7" y="0" font-size="33.0" textLength="207.6" lengthAdjust="spacingAndGlyphs" fill="#000">z-projection of</text><text class="s" x="92.1" y="0" font-size="33.0" font-weight="bold" textLength="20.5" lengthAdjust="spacingAndGlyphs" fill="#000">n</text><text class="s" x="111.9" y="4.7" font-size="23.1" font-style="italic" fill="#000">i</text></g></g>
<g><circle cx="1182.3" cy="691.3" r="15.4" fill="#aaaaaa"/><circle cx="1149.96" cy="613.24" r="15.4" fill="#aaaaaa"/><circle cx="1071.9" cy="580.9" r="15.4" fill="#aaaaaa"/><circle cx="993.84" cy="613.24" r="15.4" fill="#aaaaaa"/><circle cx="961.5" cy="691.3" r="15.4" fill="#aaaaaa"/><circle cx="993.84" cy="769.36" r="15.4" fill="#aaaaaa"/><circle cx="1071.9" cy="801.7" r="15.4" fill="#aaaaaa"/><circle cx="1149.96" cy="769.36" r="15.4" fill="#aaaaaa"/><line x1="1071.9" y1="691.3" x2="1182.3" y2="691.3" stroke="#000" stroke-width="3.5" stroke-dasharray="13 12"/><line x1="1071.9" y1="691.3" x2="1149.96" y2="613.24" stroke="#000" stroke-width="3.5" stroke-dasharray="13 12"/><line x1="1071.9" y1="691.3" x2="1071.9" y2="580.9" stroke="#000" stroke-width="3.5" stroke-dasharray="13 12"/><line x1="1071.9" y1="691.3" x2="993.84" y2="613.24" stroke="#000" stroke-width="3.5" stroke-dasharray="13 12"/><line x1="1071.9" y1="691.3" x2="961.5" y2="691.3" stroke="#000" stroke-width="3.5" stroke-dasharray="13 12"/><line x1="1071.9" y1="691.3" x2="993.84" y2="769.36" stroke="#000" stroke-width="3.5" stroke-dasharray="13 12"/><line x1="1071.9" y1="691.3" x2="1071.9" y2="801.7" stroke="#000" stroke-width="3.5" stroke-dasharray="13 12"/><line x1="1071.9" y1="691.3" x2="1149.96" y2="769.36" stroke="#000" stroke-width="3.5" stroke-dasharray="13 12"/><path d="M1069.73 683.05 L1069.16 671.7 L1069.73 657.51 L1071.15 643.31 L1072.57 629.12 L1073.14 614.93 L1075.97 603.58 L1079.66 596.48 L1081.65 591.66" fill="none" stroke="#0080ff" stroke-width="7.5" stroke-linecap="round" stroke-linejoin="round"/><path d="M1083.92 685.89 L1089.6 677.38 L1098.11 668.86 L1109.47 657.51 L1120.82 646.15 L1129.34 636.22 L1135.01 627.7 L1137.85 622.88" fill="none" stroke="#0080ff" stroke-width="7.5" stroke-linecap="round" stroke-linejoin="round"/><path d="M1083.92 700.08 L1098.11 700.08 L1112.31 701.5 L1126.5 700.08 L1140.69 698.66 L1154.88 697.24 L1169.07 695.83" fill="none" stroke="#0080ff" stroke-width="7.5" stroke-linecap="round" stroke-linejoin="round"/><path d="M1077.32 699.26 L1087.63 703.69 L1096.48 708.84 L1106.79 717.24 L1117.11 723.14 L1123.74 729.48 L1127.72 736.4 L1131.85 745.25 L1135.09 753.79 L1137.01 761.46" fill="none" stroke="#0080ff" stroke-width="7.5" stroke-linecap="round" stroke-linejoin="round"/><path d="M1075.41 702.92 L1079.66 714.28 L1081.08 731.31 L1079.66 745.5 L1078.24 759.69 L1079.66 773.88 L1079.66 786.66" fill="none" stroke="#0080ff" stroke-width="7.5" stroke-linecap="round" stroke-linejoin="round"/><path d="M1064.33 697.79 L1059.9 700.74 L1049.59 709.58 L1039.57 718.72 L1030.43 727.56 L1021.59 736.4 L1013.04 744.95 L1008.62 750.85 L1006.11 758.51" fill="none" stroke="#0080ff" stroke-width="7.5" stroke-linecap="round" stroke-linejoin="round"/><path d="M1061.21 694.41 L1047.02 690.15 L1032.83 688.16 L1018.64 688.73 L1004.45 691 L990.25 694.41 L981.74 697.24 L973.22 701.5" fill="none" stroke="#0080ff" stroke-width="7.5" stroke-linecap="round" stroke-linejoin="round"/><path d="M1066.89 685.89 L1061.21 680.21 L1052.7 673.12 L1044.18 666.02 L1035.67 657.51 L1028.57 648.99 L1024.31 640.48 L1020.06 634.8 L1012.96 630.54 L1007.28 627.7 L1002.17 625.72" fill="none" stroke="#0080ff" stroke-width="7.5" stroke-linecap="round" stroke-linejoin="round"/><path d="M1055.1 697.68 L1059.03 695.06 L1064.93 688.51 L1070.17 680.65 L1077.37 675.41 L1082.61 676.07 L1086.54 680 L1087.85 687.2 L1086.54 693.75 L1082.61 697.68 L1078.68 704.23 L1071.48 709.47 L1066.89 708.16 L1065.58 703.58 L1058.38 701.61Z" fill="#0080ff"/><path d="M924.5 543.5 L924.5 838.45 L1219.6 838.45" fill="none" stroke="#262626" stroke-width="1.8" stroke-linecap="round"/><line x1="987.64" y1="838.45" x2="987.64" y2="834.95" stroke="#262626" stroke-width="1.8"/><line x1="924.5" y1="775.56" x2="928" y2="775.56" stroke="#262626" stroke-width="1.8"/><text class="t" x="987.64" y="874.85" font-size="29.9" text-anchor="middle" fill="#000">-0.2</text><text class="t" x="915.95" y="786.56" font-size="29.9" text-anchor="end" fill="#000">-0.2</text><line x1="1071.9" y1="838.45" x2="1071.9" y2="834.95" stroke="#262626" stroke-width="1.8"/><line x1="924.5" y1="691.3" x2="928" y2="691.3" stroke="#262626" stroke-width="1.8"/><text class="t" x="1071.9" y="874.85" font-size="29.9" text-anchor="middle" fill="#000">0</text><text class="t" x="915.95" y="702.3" font-size="29.9" text-anchor="end" fill="#000">0</text><line x1="1156.16" y1="838.45" x2="1156.16" y2="834.95" stroke="#262626" stroke-width="1.8"/><line x1="924.5" y1="607.04" x2="928" y2="607.04" stroke="#262626" stroke-width="1.8"/><text class="t" x="1156.16" y="874.85" font-size="29.9" text-anchor="middle" fill="#000">0.2</text><text class="t" x="915.95" y="618.04" font-size="29.9" text-anchor="end" fill="#000">0.2</text><text class="t" x="1070.35" y="532.95" font-size="32.3" font-weight="bold" text-anchor="middle" fill="#000">Middle Washout</text><text class="s" x="949.15" y="909.55" font-size="33.0" textLength="207.6" lengthAdjust="spacingAndGlyphs" fill="#000">y-projection of</text><text class="s" x="1165.95" y="909.55" font-size="33.0" font-weight="bold" textLength="20.5" lengthAdjust="spacingAndGlyphs" fill="#000">n</text><text class="s" x="1185.75" y="914.25" font-size="23.1" font-style="italic" fill="#000">i</text><g transform="translate(850.35 691.3) rotate(-90)"><text class="s" x="-124.7" y="0" font-size="33.0" textLength="207.6" lengthAdjust="spacingAndGlyphs" fill="#000">z-projection of</text><text class="s" x="92.1" y="0" font-size="33.0" font-weight="bold" textLength="20.5" lengthAdjust="spacingAndGlyphs" fill="#000">n</text><text class="s" x="111.9" y="4.7" font-size="23.1" font-style="italic" fill="#000">i</text></g></g>
<g><circle cx="1595.3" cy="691.3" r="15.4" fill="#aaaaaa"/><circle cx="1562.96" cy="613.24" r="15.4" fill="#aaaaaa"/><circle cx="1484.9" cy="580.9" r="15.4" fill="#aaaaaa"/><circle cx="1406.84" cy="613.24" r="15.4" fill="#aaaaaa"/><circle cx="1374.5" cy="691.3" r="15.4" fill="#aaaaaa"/><circle cx="1406.84" cy="769.36" r="15.4" fill="#aaaaaa"/><circle cx="1484.9" cy="801.7" r="15.4" fill="#aaaaaa"/><circle cx="1562.96" cy="769.36" r="15.4" fill="#aaaaaa"/><line x1="1484.9" y1="691.3" x2="1595.3" y2="691.3" stroke="#000" stroke-width="3.5" stroke-dasharray="13 12"/><line x1="1484.9" y1="691.3" x2="1562.96" y2="613.24" stroke="#000" stroke-width="3.5" stroke-dasharray="13 12"/><line x1="1484.9" y1="691.3" x2="1484.9" y2="580.9" stroke="#000" stroke-width="3.5" stroke-dasharray="13 12"/><line x1="1484.9" y1="691.3" x2="1406.84" y2="613.24" stroke="#000" stroke-width="3.5" stroke-dasharray="13 12"/><line x1="1484.9" y1="691.3" x2="1374.5" y2="691.3" stroke="#000" stroke-width="3.5" stroke-dasharray="13 12"/><line x1="1484.9" y1="691.3" x2="1406.84" y2="769.36" stroke="#000" stroke-width="3.5" stroke-dasharray="13 12"/><line x1="1484.9" y1="691.3" x2="1484.9" y2="801.7" stroke="#000" stroke-width="3.5" stroke-dasharray="13 12"/><line x1="1484.9" y1="691.3" x2="1562.96" y2="769.36" stroke="#000" stroke-width="3.5" stroke-dasharray="13 12"/><path d="M1482.21 684.8 L1483.68 670.06 L1484.72 658.27 L1486.63 646.48 L1489.14 634.69 L1491.79 622.9 L1494 611.11 L1493.56 602.27 L1491.05 595.19" fill="none" stroke="#0080ff" stroke-width="7.5" stroke-linecap="round" stroke-linejoin="round"/><path d="M1487.37 687.75 L1493.26 681.85 L1502.11 673.01 L1510.95 664.17 L1521.56 655.32 L1530.11 646.78 L1536.3 639.11 L1542.19 633.22 L1548.09 628.06 L1553.69 624.67" fill="none" stroke="#0080ff" stroke-width="7.5" stroke-linecap="round" stroke-linejoin="round"/><path d="M1488.84 696.32 L1494.74 696.61 L1509.48 697.2 L1524.21 698.67 L1538.95 698.09 L1553.69 696.61 L1565.48 694.25 L1574.32 690.42 L1580.22 688.65" fill="none" stroke="#0080ff" stroke-width="7.5" stroke-linecap="round" stroke-linejoin="round"/><path d="M1482.95 706.63 L1487.37 712.53 L1494.74 720.19 L1503.58 729.03 L1510.95 739.06 L1518.61 745.25 L1528.64 747.9 L1536.3 751.14 L1543.67 758.22 L1550.74 761.16" fill="none" stroke="#0080ff" stroke-width="7.5" stroke-linecap="round" stroke-linejoin="round"/><path d="M1491.79 702.51 L1492.97 704.28" fill="none" stroke="#0080ff" stroke-width="7.5" stroke-linecap="round" stroke-linejoin="round"/><path d="M1484.15 705.76 L1484.15 717.11 L1482.73 731.31 L1478.47 742.66 L1477.62 759.69 L1478.47 773.88 L1479.89 788.07" fill="none" stroke="#0080ff" stroke-width="7.5" stroke-linecap="round" stroke-linejoin="round"/><path d="M1480.27 702.21 L1467.01 715.18 L1455.22 724.32 L1445.2 732.87 L1436.35 740.24 L1428.69 747.9 L1421.32 753.79 L1412.48 758.51" fill="none" stroke="#0080ff" stroke-width="7.5" stroke-linecap="round" stroke-linejoin="round"/><path d="M1474.21 697.24 L1462.86 697.24 L1451.51 694.41 L1440.15 690.15 L1425.96 687.31 L1411.77 688.16 L1397.58 692.99 L1384.8 696.68" fill="none" stroke="#0080ff" stroke-width="7.5" stroke-linecap="round" stroke-linejoin="round"/><path d="M1479.89 683.05 L1471.38 674.54 L1462.86 668.86 L1454.34 660.34 L1445.83 651.83 L1437.31 646.15 L1425.96 640.48 L1417.45 634.8" fill="none" stroke="#0080ff" stroke-width="7.5" stroke-linecap="round" stroke-linejoin="round"/><path d="M1410.35 622.03 L1410.35 622.03" fill="none" stroke="#0080ff" stroke-width="7.5" stroke-linecap="round" stroke-linejoin="round"/><path d="M1475.31 683.27 L1478.58 679.34 L1486.44 676.72 L1492.99 678.03 L1497.58 682.62 L1500.85 688.51 L1502.16 691.79 L1497.58 696.37 L1496.27 702.92 L1491.68 707.51 L1487.75 706.2 L1483.17 706.85 L1477.93 702.92 L1476.62 697.68 L1479.89 689.82 L1476.62 686.55Z" fill="#0080ff"/><path d="M1337.5 543.5 L1337.5 838.45 L1632.6 838.45" fill="none" stroke="#262626" stroke-width="1.8" stroke-linecap="round"/><line x1="1400.64" y1="838.45" x2="1400.64" y2="834.95" stroke="#262626" stroke-width="1.8"/><line x1="1337.5" y1="775.56" x2="1341" y2="775.56" stroke="#262626" stroke-width="1.8"/><text class="t" x="1400.64" y="874.85" font-size="29.9" text-anchor="middle" fill="#000">-0.2</text><text class="t" x="1328.95" y="786.56" font-size="29.9" text-anchor="end" fill="#000">-0.2</text><line x1="1484.9" y1="838.45" x2="1484.9" y2="834.95" stroke="#262626" stroke-width="1.8"/><line x1="1337.5" y1="691.3" x2="1341" y2="691.3" stroke="#262626" stroke-width="1.8"/><text class="t" x="1484.9" y="874.85" font-size="29.9" text-anchor="middle" fill="#000">0</text><text class="t" x="1328.95" y="702.3" font-size="29.9" text-anchor="end" fill="#000">0</text><line x1="1569.16" y1="838.45" x2="1569.16" y2="834.95" stroke="#262626" stroke-width="1.8"/><line x1="1337.5" y1="607.04" x2="1341" y2="607.04" stroke="#262626" stroke-width="1.8"/><text class="t" x="1569.16" y="874.85" font-size="29.9" text-anchor="middle" fill="#000">0.2</text><text class="t" x="1328.95" y="618.04" font-size="29.9" text-anchor="end" fill="#000">0.2</text><text class="t" x="1484.05" y="532.95" font-size="32.3" font-weight="bold" text-anchor="middle" fill="#000">Late Washout</text><text class="s" x="1362.15" y="909.55" font-size="33.0" textLength="207.6" lengthAdjust="spacingAndGlyphs" fill="#000">y-projection of</text><text class="s" x="1578.95" y="909.55" font-size="33.0" font-weight="bold" textLength="20.5" lengthAdjust="spacingAndGlyphs" fill="#000">n</text><text class="s" x="1598.75" y="914.25" font-size="23.1" font-style="italic" fill="#000">i</text><g transform="translate(1263.35 691.3) rotate(-90)"><text class="s" x="-124.7" y="0" font-size="33.0" textLength="207.6" lengthAdjust="spacingAndGlyphs" fill="#000">z-projection of</text><text class="s" x="92.1" y="0" font-size="33.0" font-weight="bold" textLength="20.5" lengthAdjust="spacingAndGlyphs" fill="#000">n</text><text class="s" x="111.9" y="4.7" font-size="23.1" font-style="italic" fill="#000">i</text></g></g>
</svg></body></html>
